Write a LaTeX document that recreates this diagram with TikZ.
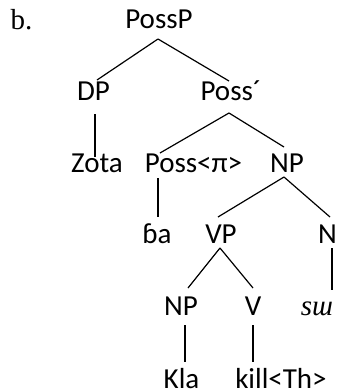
\documentclass[tikz,border=0pt]{standalone}
\usepackage{fontspec}
\setmainfont{Carlito}
\newfontfamily\serifb{Liberation Serif}
\begin{document}
\begin{tikzpicture}[x=1pt,y=-1pt,
  lab/.style={anchor=base,inner sep=0pt,font=\fontsize{29}{35}\selectfont},
  edge/.style={line width=1.2pt}]
\useasboundingbox (0,0) rectangle (337,392);
\node[lab] (b) at (21.5,29) {\serifb b.};
\node[lab] (PossP) at (159,28) {PossP};
\node[lab] (DP) at (93.5,100) {DP};
\node[lab] (Possb) at (231,100) {Poss´};
\node[lab] (Zota) at (97,172) {Zota};
\node[lab] (Posspi) at (193.5,172) {Poss<π>};
\node[lab] (NP) at (287,172) {NP};
\node[lab] (ba) at (157,243) {ɓa};
\node[lab] (VP) at (221,243) {VP};
\node[lab] (N) at (327.5,243) {N};
\node[lab] (NPb) at (181,315) {NP};
\node[lab] (V) at (253,315) {V};
\node[lab] (su) at (317,315) {\serifb\itshape sɯ};
\node[lab] (Kla) at (181.5,388) {Kla};
\node[lab] (kill) at (281,388) {kill<Th>};
\draw[edge] ([shift={(-1,11)}]PossP.base) -- ([shift={(3.5,-20)}]DP.base);
\draw[edge] ([shift={(-1,11)}]PossP.base) -- ([shift={(-2,-19)}]Possb.base);
\draw[edge] ([shift={(1.5,14)}]DP.base) -- ([shift={(-2,-15)}]Zota.base);
\draw[edge] ([shift={(-2,13)}]Possb.base) -- ([shift={(-33.5,-19)}]Posspi.base);
\draw[edge] ([shift={(-2,13)}]Possb.base) -- ([shift={(-3,-25)}]NP.base);
\draw[edge] ([shift={(-35.5,6)}]Posspi.base) -- ([shift={(1,-26)}]ba.base);
\draw[edge] ([shift={(-3,5)}]NP.base) -- ([shift={(-3,-26)}]VP.base);
\draw[edge] ([shift={(-3,5)}]NP.base) -- ([shift={(2.5,-26)}]N.base);
\draw[edge] ([shift={(4.5,5)}]N.base) -- ([shift={(15,-25)}]su.base);
\draw[edge] ([shift={(-1,5)}]VP.base) -- ([shift={(7,-27)}]NPb.base);
\draw[edge] ([shift={(-1,5)}]VP.base) -- ([shift={(0,-27)}]V.base);
\draw[edge] ([shift={(4,10)}]NPb.base) -- ([shift={(3.5,-26)}]Kla.base);
\draw[edge] ([shift={(0,10)}]V.base) -- ([shift={(-28,-26)}]kill.base);
\end{tikzpicture}
\end{document}
